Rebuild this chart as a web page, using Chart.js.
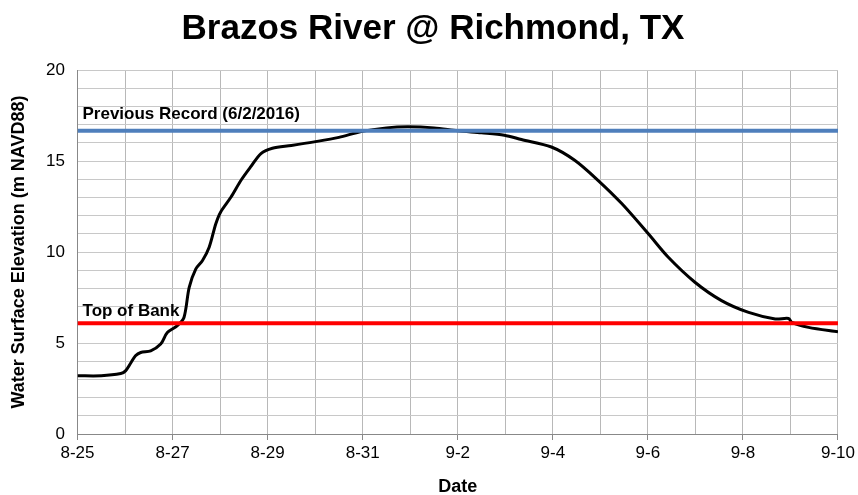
<!DOCTYPE html>
<html>
<head>
<meta charset="utf-8">
<script src="https://cdn.jsdelivr.net/npm/chart.js@4"></script>
<style>
  html, body { margin: 0; padding: 0; background: #fff; }
  #wrap { width: 858px; height: 495px; }
</style>
</head>
<body>
<div id="wrap"><canvas id="riverChart" width="858" height="495"></canvas></div>
<script>
// days since 8-25 and stage (m NAVD88)
const days = [0, 0.5, 0.91, 1.01, 1.12, 1.22, 1.33, 1.54, 1.75, 1.89, 2.10, 2.24, 2.35, 2.49, 2.63, 2.77, 2.91, 3.01, 3.23, 3.44, 3.65, 3.86, 4.1, 4.5, 4.98, 5.5, 5.97, 6.5, 6.95, 7.5, 8.0, 8.5, 8.98, 9.34, 9.97, 10.46, 10.95, 11.45, 12.01, 12.43, 12.99, 13.55, 14.12, 14.68, 14.96, 15.03, 15.38, 16];
const stage = [3.2, 3.2, 3.32, 3.47, 3.9, 4.3, 4.48, 4.57, 4.94, 5.58, 5.95, 6.4, 8.06, 9.07, 9.53, 10.26, 11.55, 12.19, 13.02, 13.94, 14.7, 15.41, 15.7, 15.85, 16.05, 16.3, 16.62, 16.82, 16.88, 16.82, 16.66, 16.55, 16.42, 16.18, 15.77, 15.04, 13.94, 12.66, 11.0, 9.71, 8.34, 7.33, 6.68, 6.32, 6.35, 6.13, 5.86, 5.62];

const dateLabels = ['8-25', '8-26', '8-27', '8-28', '8-29', '8-30', '8-31', '9-1', '9-2', '9-3', '9-4', '9-5', '9-6', '9-7', '9-8', '9-9', '9-10'];
const recordLevel = 16.66;
const bankLevel = 6.08;
const recordText = 'Previous Record (6/2/2016)';
const bankText = 'Top of Bank';

const FONT = "'Liberation Sans', Arial, sans-serif";

const lineLabels = {
  id: 'lineLabels',
  afterDatasetsDraw(chart) {
    const { ctx, scales } = chart;
    ctx.save();
    ctx.font = 'bold 17px ' + FONT;
    ctx.fillStyle = '#000';
    ctx.textBaseline = 'alphabetic';
    const x0 = scales.x.getPixelForValue(0) + 5;
    ctx.fillText(recordText, x0, scales.y.getPixelForValue(recordLevel) - 12);
    ctx.fillText(bankText, x0, scales.y.getPixelForValue(bankLevel) - 7);
    ctx.restore();
  }
};

new Chart(document.getElementById('riverChart'), {
  type: 'line',
  data: {
    datasets: [
      {
        label: 'Previous Record',
        data: [{ x: 0, y: recordLevel }, { x: 16, y: recordLevel }],
        borderColor: '#4f7fbc',
        borderWidth: 4,
        pointRadius: 0
      },
      {
        label: 'Top of Bank',
        data: [{ x: 0, y: bankLevel }, { x: 16, y: bankLevel }],
        borderColor: '#ff0000',
        borderWidth: 4,
        pointRadius: 0
      },
      {
        label: 'Stage',
        data: days.map((d, i) => ({ x: d, y: stage[i] })),
        borderColor: '#000',
        borderWidth: 3,
        pointRadius: 0,
        tension: 0.3
      }
    ]
  },
  options: {
    responsive: false,
    animation: false,
    layout: { padding: { left: 8, right: 0, top: 0, bottom: 0 } },
    plugins: {
      legend: { display: false },
      tooltip: { enabled: false },
      title: {
        display: true,
        text: 'Brazos River @ Richmond, TX',
        color: '#000',
        font: { family: FONT, size: 35, weight: 'bold' },
        padding: { top: 8, bottom: 20 }
      }
    },
    scales: {
      x: {
        type: 'linear',
        min: 0,
        max: 16,
        ticks: {
          stepSize: 1,
          autoSkip: false,
          maxRotation: 0,
          color: '#000',
          font: { family: FONT, size: 17 },
          padding: 3,
          callback: v => (v % 2 === 0 ? dateLabels[v] : '')
        },
        grid: {
          color: '#b8b8b8',
          tickLength: 6,
          tickColor: c => (c.tick && c.tick.value % 2 === 0 ? '#888' : 'rgba(0,0,0,0)')
        },
        border: { color: '#888' },
        title: {
          display: true,
          text: 'Date',
          color: '#000',
          font: { family: FONT, size: 18, weight: 'bold' },
          padding: { top: 10, bottom: -3 }
        }
      },
      y: {
        min: 0,
        max: 20,
        ticks: {
          stepSize: 1,
          autoSkip: false,
          color: '#000',
          font: { family: FONT, size: 17 },
          padding: 12.5,
          callback: v => (v % 5 === 0 ? v : '')
        },
        grid: {
          color: '#c8c8c8',
          tickLength: 0
        },
        border: { color: '#888' },
        title: {
          display: true,
          text: 'Water Surface Elevation (m NAVD88)',
          color: '#000',
          font: { family: FONT, size: 18, weight: 'bold' },
          padding: { top: 0, bottom: 4 }
        }
      }
    }
  },
  plugins: [lineLabels]
});
</script>
</body>
</html>
